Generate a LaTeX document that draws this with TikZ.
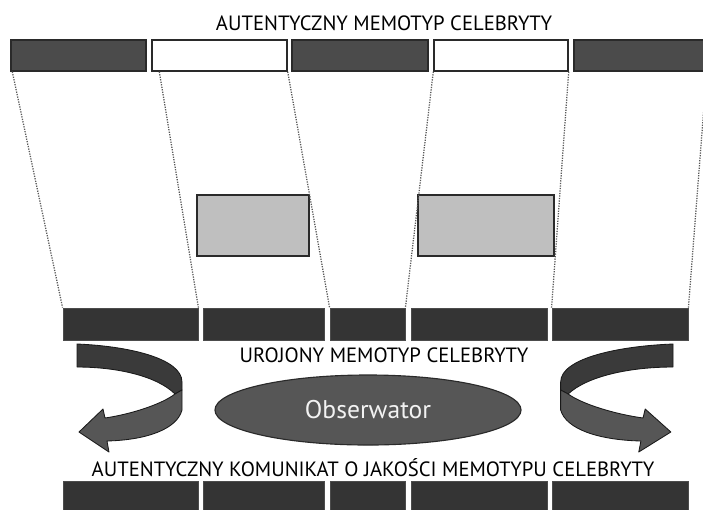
\documentclass[tikz,border=0pt]{standalone}
\usepackage{fontspec}
\setmainfont{PT Sans}
\usetikzlibrary{calc,fit,shapes.geometric}

\definecolor{memodark}{HTML}{4B4B4B}
\definecolor{rowdark}{HTML}{343434}
\definecolor{edgedark}{HTML}{2A2A2A}
\definecolor{bandtop}{HTML}{3A3A3A}
\definecolor{bandlow}{HTML}{565656}

% half turn arrow, local pixels, origin at the free end of the band
\def\halfturn{
  \draw[bandline, fill=bandtop] (0,0) .. controls (50,2) and (105,14) .. (105,38) -- (105,46) -- (98,50)
    .. controls (80,32) and (40,23) .. (0,23) -- cycle;
  \draw[bandline, fill=bandlow] (105,46) -- (105,66) .. controls (100,85) and (70,96) .. (30,97) -- (32,108)
    -- (2,88) -- (26,65) -- (28,74) .. controls (55,70) and (85,60) .. (98,50) -- cycle;
}

\begin{document}
\begin{tikzpicture}[x=0.025cm, y=-0.025cm,
    memo/.style={draw=edgedark, line width=1pt, inner sep=0pt},
    topdark/.style={memo, fill=memodark},
    toplight/.style={memo, fill=white},
    shade/.style={draw=edgedark, line width=1.8pt, fill=black!25, inner sep=0pt},
    rowbox/.style={draw=black!70, line width=0.6pt, fill=rowdark, inner sep=0pt},
    guide/.style={draw=black!65, line width=0.9pt, dash pattern=on 0.9pt off 0.9pt},
    bandline/.style={draw=black!90, line width=0.6pt, line join=round},
    caption/.style={font=\fontsize{14.7}{16}\selectfont, text=black, inner sep=0pt}]
  \useasboundingbox (0,0) rectangle (703,509);
  \clip (0,0) rectangle (703,509);

  %%%%% top memotype %%%%%
  \node[caption] (title) at (384,23) {AUTENTYCZNY MEMOTYP CELEBRYTY};
  \node[topdark, fit={(11,40) (146,71)}] (t1) {};
  \node[toplight, fit={(152,40) (287,71)}] (t2) {};
  \node[topdark, fit={(292,40) (428,71)}] (t3) {};
  \node[toplight, fit={(434,40) (568,71)}] (t4) {};
  \node[topdark, fit={(574,40) (706,71)}] (t5) {};

  %%%%% observed fragments %%%%%
  \node[shade, fit={(197,195) (309,256)}] (g1) {};
  \node[shade, fit={(418,195) (554,256)}] (g2) {};

  %%%%% imagined memotype %%%%%
  \node[rowbox, fit={(63,308) (198,340)}] (b1) {};
  \node[rowbox, fit={(203,308) (324,340)}] (b2) {};
  \node[rowbox, fit={(330,308) (405,340)}] (b3) {};
  \node[rowbox, fit={(411,308) (547,340)}] (b4) {};
  \node[rowbox, fit={(552,308) (688,340)}] (b5) {};

  \draw[guide] ($(t1.south west)+(2,0)$) -- (b1.north west);
  \draw[guide] ($(t2.south west)+(8,0)$) -- (b1.north east);
  \draw[guide] (t2.south east) -- (b3.north west);
  \draw[guide] (t4.south west) -- (b3.north east);
  \draw[guide] (t4.south east) -- (b5.north west);
  \draw[guide] (t5.south east) -- (b5.north east);

  \node[caption] (imagined) at (384,355) {UROJONY MEMOTYP CELEBRYTY};

  %%%%% observer %%%%%
  \node[ellipse, draw=edgedark, line width=0.8pt, fill=bandlow, minimum width=7.65cm, minimum height=1.75cm,
    font=\fontsize{18.2}{20}\selectfont, text=black!5] (obs) at (368,410) {Obserwator};

  \begin{scope}[shift={(77,344)}]
    \halfturn
  \end{scope}
  \begin{scope}[shift={(673,344)}, xscale=-1.07]
    \halfturn
  \end{scope}

  %%%%% message %%%%%
  \node[caption] (message) at (373,468) {AUTENTYCZNY KOMUNIKAT O JAKOŚCI MEMOTYPU CELEBRYTY};
  \node[rowbox, fit={(63,481) (198,513)}] (c1) {};
  \node[rowbox, fit={(203,481) (324,513)}] (c2) {};
  \node[rowbox, fit={(330,481) (405,513)}] (c3) {};
  \node[rowbox, fit={(411,481) (547,513)}] (c4) {};
  \node[rowbox, fit={(552,481) (688,513)}] (c5) {};
\end{tikzpicture}
\end{document}
